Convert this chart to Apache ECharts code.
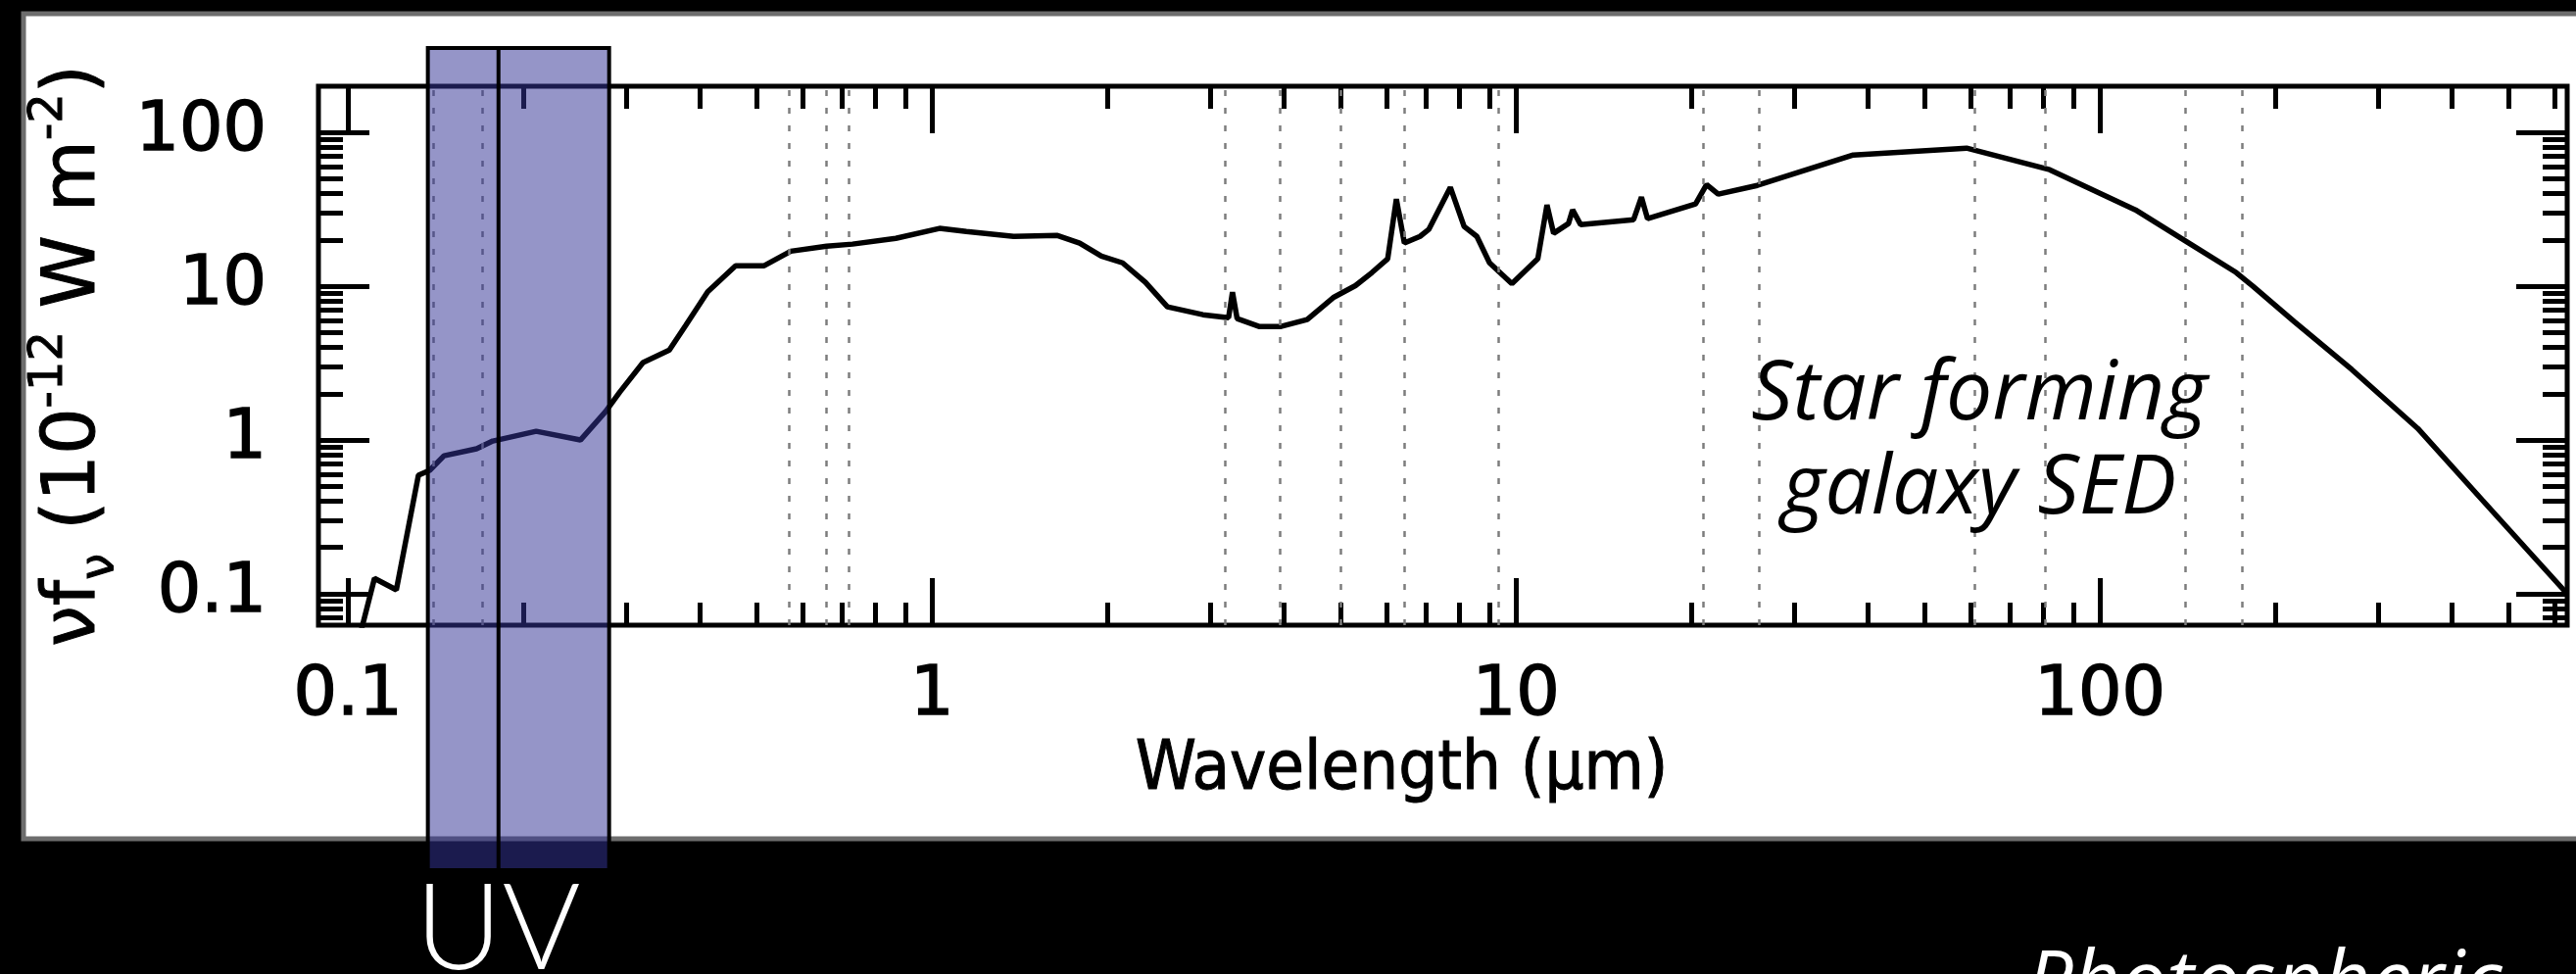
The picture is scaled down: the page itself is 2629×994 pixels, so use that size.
<!DOCTYPE html>
<html>
<head>
<meta charset="utf-8">
<title>Star forming galaxy SED</title>
<script src="https://cdn.jsdelivr.net/npm/echarts@6/dist/echarts.min.js"></script>
<style>
  html, body { margin: 0; padding: 0; background: #000; }
  #sed-chart { width: 2629px; height: 994px; }
</style>
</head>
<body>
<div id="sed-chart"></div>
<script>
// SED: wavelength in micron, nu f_nu in 1e-12 W m^-2
var wavelength = [0.105, 0.111, 0.121, 0.132, 0.138, 0.146, 0.166, 0.177, 0.21, 0.25,
  0.276, 0.292, 0.32, 0.355, 0.379, 0.413, 0.461, 0.516, 0.573, 0.66,
  0.731, 0.867, 1.03, 1.145, 1.38, 1.64, 1.79, 1.95, 2.12, 2.32,
  2.53, 2.91, 3.22, 3.27, 3.33, 3.63, 3.96, 4.39, 4.88, 5.31,
  5.67, 6.03, 6.24, 6.44, 6.85, 7.09, 7.72, 8.15, 8.57, 9.01,
  9.84, 10.9, 11.3, 11.6, 12.3, 12.5, 12.9, 15.9, 16.4, 16.8,
  20.3, 21.2, 22.2, 25.9, 37.8, 59.1, 82, 115, 142, 171,
  183, 215, 270, 350, 451, 631];
var flux = [0.055, 0.126, 0.106, 0.59, 0.635, 0.79, 0.877, 0.985, 1.14, 1.0,
  1.53, 2.05, 3.19, 3.85, 5.6, 9.2, 13.6, 13.6, 16.9, 18.2,
  18.8, 20.5, 23.8, 22.7, 21.1, 21.4, 19.1, 15.7, 14.2, 10.6,
  7.35, 6.53, 6.25, 9.16, 6.17, 5.48, 5.48, 6.07, 8.5, 10.1,
  12.3, 15.1, 36.9, 19.1, 21.1, 23.4, 44, 24.5, 21.1, 14.2,
  10.4, 15.1, 33.8, 22.1, 25.6, 31.4, 25.2, 27.1, 38, 27.5,
  34.3, 45.9, 39.7, 45.3, 71.4, 79.1, 57.3, 31.4, 19.1, 12.3,
  9.97, 5.9, 2.87, 1.19, 0.409, 0.1];

// tick values
var xMajor = [0.1, 1, 10, 100];
var xMinor = [0.2, 0.3, 0.4, 0.5, 0.6, 0.7, 0.8, 0.9,
  2, 3, 4, 5, 6, 7, 8, 9,
  20, 30, 40, 50, 60, 70, 80, 90,
  200, 300, 400, 500, 600];
var yMajor = [0.1, 1, 10, 100];
var yMinor = [0.07, 0.08, 0.09,
  0.2, 0.3, 0.4, 0.5, 0.6, 0.7, 0.8, 0.9,
  2, 3, 4, 5, 6, 7, 8, 9,
  20, 30, 40, 50, 60, 70, 80, 90];

// dotted band wavelengths and the UV band (FUV / NUV)
var bandLines = [0.135, 0.175, 0.571, 0.659, 0.72, 3.17, 3.94, 5.01, 6.44, 9.33,
  20.9, 26.1, 61, 80.5, 140, 175];
var uvEdges = [0.137, 0.181, 0.28];

var XMIN = 0.089, XMAX = 631, YMIN = 0.0625, YMAX = 200;

var chart = echarts.init(document.getElementById('sed-chart'));

function fmt(v) { return String(+Number(v).toPrecision(3)); }

var labelFont = { fontSize: 70, fontFamily: 'DejaVu Sans', color: '#000',
  textBorderColor: '#000', textBorderWidth: 1.5, formatter: fmt };

function xAx(pos, ticks, len, labels) {
  var ax = {
    type: 'log', position: pos, min: XMIN, max: XMAX,
    axisLine: { show: false },
    splitLine: { show: false },
    axisTick: { show: true, inside: true, length: len, customValues: ticks,
      lineStyle: { color: '#000', width: 5 } },
    axisLabel: { show: false }
  };
  if (labels) {
    ax.axisLabel = echarts.util.extend({ show: true, customValues: ticks, margin: 38 }, labelFont);
  }
  return ax;
}

function yAx(pos, ticks, len, labels) {
  var ax = {
    type: 'log', position: pos, min: YMIN, max: YMAX,
    axisLine: { show: false },
    splitLine: { show: false },
    axisTick: { show: true, inside: true, length: len, customValues: ticks,
      lineStyle: { color: '#000', width: 5 } },
    axisLabel: { show: false }
  };
  if (labels) {
    ax.axisLabel = echarts.util.extend({ show: true, customValues: ticks, margin: 53 }, labelFont);
  }
  return ax;
}

var xMain = xAx('bottom', xMajor, 48, true);
xMain.name = 'Wavelength (\u03bcm)';
xMain.nameLocation = 'middle';
xMain.nameGap = 92;
xMain.nameTextStyle = { fontSize: 70, fontFamily: 'DejaVu Sans Condensed', color: '#000',
  textBorderColor: '#000', textBorderWidth: 1, padding: [0, 84, 0, 0] };

var yMain = yAx('left', yMajor, 52, true);
yMain.name = '\u03bdf{sub|\u03bd} (10{sup|-12} W m{sup|-2})';
yMain.nameLocation = 'middle';
yMain.nameRotate = 90;
yMain.nameGap = 186;
yMain.nameTextStyle = {
  fontSize: 75, fontFamily: 'DejaVu Sans', color: '#000', lineHeight: 100,
  textBorderColor: '#000', textBorderWidth: 1,
  rich: {
    sub: { fontSize: 48, fontFamily: 'DejaVu Sans', color: '#000', verticalAlign: 'bottom',
      textBorderColor: '#000', textBorderWidth: 1 },
    sup: { fontSize: 48, fontFamily: 'DejaVu Sans', color: '#000', verticalAlign: 'top',
      textBorderColor: '#000', textBorderWidth: 1 }
  }
};

var option = {
  backgroundColor: '#000',
  animation: false,
  grid: {
    left: 325, right: 9, top: 88, bottom: 356,
    show: true, borderColor: '#000', borderWidth: 5, backgroundColor: 'transparent',
    outerBoundsMode: 'none'
  },
  xAxis: [xMain, xAx('bottom', xMinor, 23, false), xAx('top', xMajor, 48, false), xAx('top', xMinor, 23, false)],
  yAxis: [yMain, yAx('left', yMinor, 25, false), yAx('right', yMajor, 52, false), yAx('right', yMinor, 25, false)],
  series: [{
    type: 'line',
    xAxisIndex: 0, yAxisIndex: 0,
    data: wavelength.map(function (w, i) { return [w, flux[i]]; }),
    symbol: 'none',
    lineStyle: { color: '#000', width: 5.5 },
    clip: true,
    markLine: {
      silent: true, symbol: ['none', 'none'],
      label: { show: false },
      lineStyle: { color: '#7d7d7d', width: 2.5, type: [6, 12] },
      data: bandLines.map(function (v) { return { xAxis: v }; })
    }
  }],
  graphic: [
    { id: 'panel', type: 'rect', z: -10, silent: true,
      shape: { x: 24, y: 14, width: 2700, height: 842 },
      style: { fill: '#fff', stroke: '#6d6d6d', lineWidth: 5 } },
    { id: 'sed-label', type: 'text', z: 20, x: 2020, y: 452,
      style: { text: 'Star forming\ngalaxy SED', fontSize: 84, fontStyle: 'italic',
        fontFamily: 'Open Sans', fill: '#000', align: 'center', verticalAlign: 'middle', lineHeight: 96 } },
    { id: 'photo-label', type: 'text', z: 20, x: 2068, y: 1006,
      style: { text: 'Photospheric', fontSize: 84, fontStyle: 'italic',
        fontFamily: 'Open Sans', fill: '#fff', align: 'left', verticalAlign: 'middle' } }
  ]
};

chart.setOption(option);

// UV band box placed through the wavelength axis
var uvPx = uvEdges.map(function (v) { return chart.convertToPixel({ xAxisIndex: 0 }, v); });
chart.setOption({
  graphic: [
    { id: 'uv-box', type: 'rect', z: 50, silent: true,
      shape: { x: uvPx[0], y: 49, width: uvPx[2] - uvPx[0], height: 839 },
      style: { fill: 'rgba(51,51,150,0.52)', stroke: '#000', lineWidth: 4 } },
    { id: 'uv-mid', type: 'line', z: 51, silent: true,
      shape: { x1: uvPx[1], y1: 49, x2: uvPx[1], y2: 888 },
      style: { stroke: '#000', lineWidth: 4 } },
    { id: 'uv-text', type: 'text', z: 51, x: (uvPx[0] + uvPx[2]) / 2 - 21, y: 950,
      style: { text: 'UV', fontSize: 122, fontFamily: 'Lato', fontWeight: 300,
        fill: '#fff', align: 'center', verticalAlign: 'middle' } }
  ]
});
</script>
</body>
</html>
